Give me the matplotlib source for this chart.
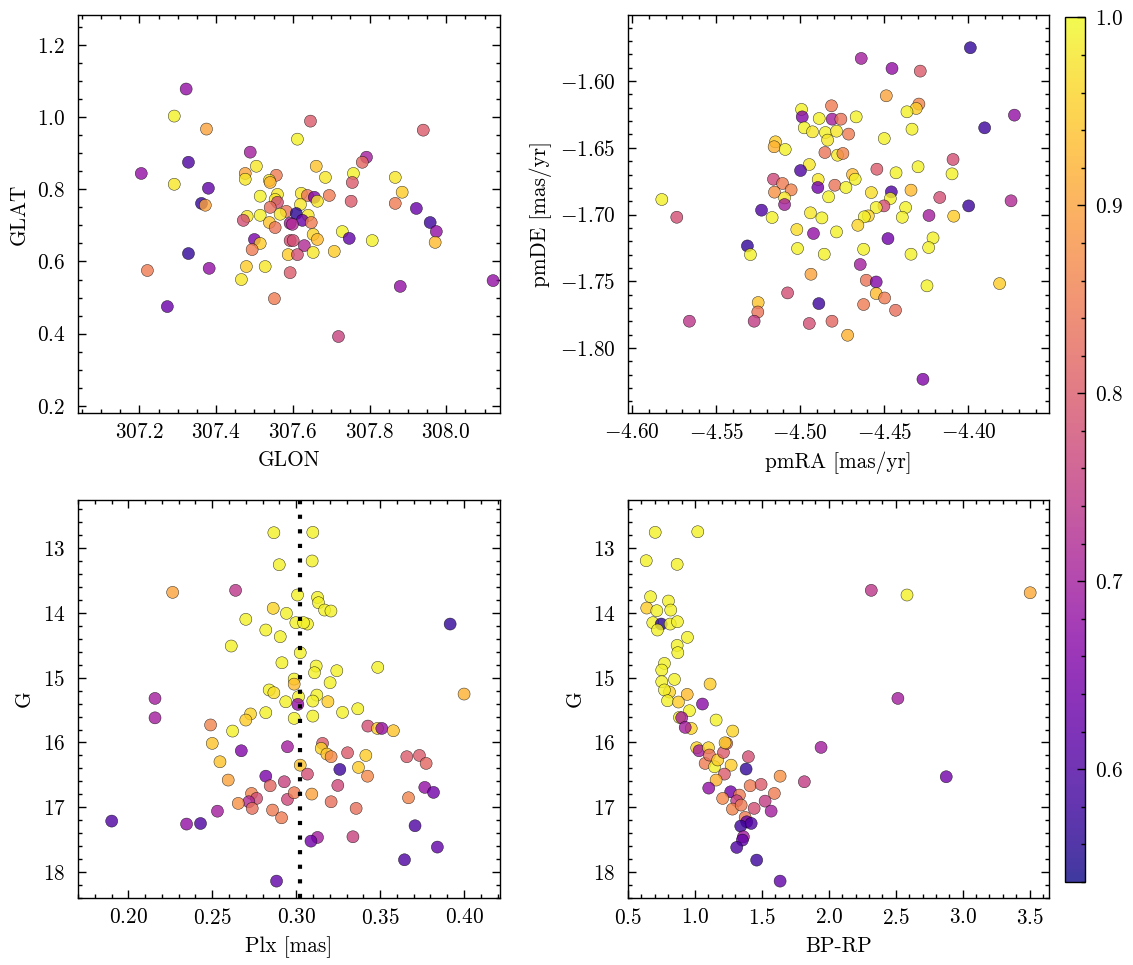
import matplotlib
matplotlib.use('Agg')
import matplotlib.pyplot as plt
from matplotlib.ticker import MultipleLocator

plt.rcParams['font.family'] = 'serif'
plt.rcParams['font.serif'] = ['cmr10']
plt.rcParams['mathtext.fontset'] = 'cm'
plt.rcParams['axes.formatter.use_mathtext'] = True
plt.rcParams['font.size'] = 15.3

# --- panel 1: sky position ---
glon = [307.322, 307.291, 307.375, 307.489, 307.328, 307.205, 307.505, 307.476, 307.476, 307.557,
        307.539, 307.541, 307.291, 307.380, 307.362, 307.372, 307.515, 307.560, 307.554, 307.560,
        307.541, 307.583, 307.481, 307.471, 307.515, 307.539, 307.567, 307.554, 307.593, 307.500,
        307.515, 307.494, 307.593, 307.588, 307.593, 307.328, 307.221, 307.382, 307.479, 307.528,
        307.466, 307.552, 307.273, 307.646, 307.940, 307.612, 307.792, 307.781, 307.661, 307.758,
        307.685, 307.867, 307.755, 307.885, 307.622, 307.638, 307.656, 307.664, 307.695, 307.752,
        307.867, 307.620, 307.922, 307.609, 307.640, 307.625, 307.648, 307.958, 307.974, 307.599,
        307.729, 307.653, 307.664, 307.747, 307.807, 307.601, 307.630, 307.971, 307.653, 307.708,
        307.612, 307.880, 308.122, 307.719]
glat = [1.078, 1.003, 0.967, 0.903, 0.875, 0.844, 0.864, 0.844, 0.828, 0.839,
        0.825, 0.819, 0.814, 0.803, 0.761, 0.756, 0.781, 0.786, 0.772, 0.764,
        0.750, 0.739, 0.725, 0.714, 0.728, 0.708, 0.731, 0.694, 0.706, 0.661,
        0.650, 0.633, 0.658, 0.619, 0.569, 0.622, 0.575, 0.581, 0.586, 0.586,
        0.550, 0.497, 0.475, 0.989, 0.964, 0.939, 0.889, 0.875, 0.864, 0.844,
        0.833, 0.833, 0.819, 0.792, 0.789, 0.783, 0.778, 0.767, 0.783, 0.767,
        0.761, 0.758, 0.747, 0.733, 0.728, 0.714, 0.708, 0.708, 0.683, 0.703,
        0.683, 0.675, 0.661, 0.664, 0.658, 0.658, 0.644, 0.653, 0.625, 0.628,
        0.619, 0.531, 0.547, 0.392]
prob1 = [0.68, 0.99, 0.90, 0.70, 0.60, 0.68, 0.98, 0.90, 0.98, 0.85,
         0.98, 0.92, 0.98, 0.62, 0.57, 0.90, 0.99, 0.98, 0.98, 0.78,
         0.83, 0.84, 0.98, 0.78, 0.99, 0.94, 0.98, 0.84, 0.70, 0.65,
         0.95, 0.85, 0.78, 0.95, 0.80, 0.57, 0.85, 0.68, 0.95, 0.98,
         0.98, 0.85, 0.63, 0.80, 0.80, 0.99, 0.70, 0.82, 0.94, 0.99,
         0.98, 0.98, 0.80, 0.95, 0.98, 0.84, 0.66, 0.98, 0.85, 0.80,
         0.85, 0.98, 0.63, 0.56, 0.98, 0.63, 0.85, 0.58, 0.68, 0.72,
         0.99, 0.96, 0.93, 0.62, 0.99, 0.78, 0.72, 0.93, 0.98, 0.95,
         0.78, 0.68, 0.68, 0.76]

# --- panel 2: proper motions ---
pmra = [-4.4992, -4.4988, -4.4887, -4.4814, -4.4810, -4.4976, -4.4927, -4.4850, -4.4837, -4.4784,
        -4.5147, -4.5155, -4.5089, -4.4853, -4.4778, -4.4946, -4.4998, -4.5159, -4.5105, -4.5054,
        -4.5153, -4.4893, -4.4895, -4.4794, -4.4831, -4.5093, -4.5093, -4.5823, -4.5734, -4.5230,
        -4.5167, -4.4939, -4.4871, -4.5020, -4.4921, -4.4784, -4.5314, -4.5296, -4.5016, -4.4857,
        -4.4936, -4.5075, -4.4889, -4.5250, -4.5252, -4.5274, -4.5659, -4.4946, -4.4811,
        -4.3988, -4.4637, -4.4454, -4.4286, -4.4488, -4.4294, -4.4310, -4.4365, -4.3726, -4.4667,
        -4.4758, -4.3903, -4.4335, -4.4712, -4.4500, -4.4746, -4.4091, -4.4544, -4.4299, -4.4430,
        -4.4097, -4.4689, -4.4673, -4.4728, -4.4577, -4.4458, -4.4464, -4.4341, -4.4170, -4.4502,
        -4.4548, -4.4373, -4.3998, -4.3746, -4.4595, -4.4619, -4.4393, -4.4234, -4.4087, -4.4657,
        -4.4478, -4.4210, -4.4236, -4.4623, -4.4341, -4.4643, -4.4607, -4.4548, -4.4548, -4.4498,
        -4.4623, -4.4433, -4.4246, -4.3814, -4.4718, -4.4270]
pmde = [-1.6212, -1.6268, -1.6280, -1.6185, -1.6285, -1.6350, -1.6380, -1.6385, -1.6442, -1.6375,
        -1.6455, -1.6492, -1.6512, -1.6535, -1.6555, -1.6625, -1.6670, -1.6735, -1.6767, -1.6815,
        -1.6832, -1.6737, -1.6797, -1.6780, -1.6867, -1.6875, -1.6925, -1.6887, -1.7020, -1.6967,
        -1.7022, -1.6987, -1.7025, -1.7112, -1.7142, -1.7130, -1.7235, -1.7300, -1.7254, -1.7297,
        -1.7447, -1.7587, -1.7667, -1.7659, -1.7730, -1.7799, -1.7799, -1.7816, -1.7799,
        -1.5750, -1.5830, -1.5905, -1.5925, -1.6110, -1.6172, -1.6205, -1.6230, -1.6255, -1.6268,
        -1.6285, -1.6350, -1.6360, -1.6397, -1.6430, -1.6542, -1.6587, -1.6660, -1.6642, -1.6687,
        -1.6695, -1.6700, -1.6735, -1.6797, -1.6835, -1.6830, -1.6880, -1.6817, -1.6872, -1.6935,
        -1.6947, -1.6947, -1.6935, -1.6897, -1.7010, -1.7017, -1.7020, -1.7007, -1.7012, -1.7080,
        -1.7180, -1.7175, -1.7247, -1.7260, -1.7297, -1.7374, -1.7492, -1.7505, -1.7592, -1.7625,
        -1.7674, -1.7717, -1.7534, -1.7517, -1.7904, -1.8234]
prob2 = [0.99, 0.66, 0.99, 0.85, 0.70, 0.99, 0.98, 0.99, 0.98, 0.98,
         0.95, 0.92, 0.99, 0.84, 0.98, 0.98, 0.60, 0.77, 0.85, 0.86,
         0.88, 0.98, 0.64, 0.84, 0.99, 0.98, 0.70, 0.99, 0.78, 0.60,
         0.99, 0.98, 0.99, 0.97, 0.68, 0.99, 0.57, 0.99, 0.99, 0.99,
         0.90, 0.78, 0.58, 0.94, 0.84, 0.75, 0.74, 0.78, 0.82,
         0.57, 0.70, 0.68, 0.80, 0.90, 0.86, 0.95, 0.99, 0.68, 0.99,
         0.84, 0.58, 0.99, 0.85, 0.99, 0.86, 0.78, 0.80, 0.99, 0.99,
         0.99, 0.93, 0.99, 0.99, 0.97, 0.60, 0.99, 0.93, 0.78, 0.78,
         0.99, 0.99, 0.58, 0.72, 0.96, 0.99, 0.99, 0.70, 0.95, 0.96,
         0.64, 0.99, 0.99, 0.99, 0.99, 0.70, 0.84, 0.66, 0.93, 0.85,
         0.85, 0.83, 0.99, 0.95, 0.92, 0.66]

# --- panel 3: parallax vs G ---
plx = [0.2867, 0.2899, 0.2264, 0.2639, 0.2863, 0.2942, 0.2700, 0.2819, 0.2905, 0.2613,
       0.2915, 0.2839, 0.2867, 0.2159, 0.2938, 0.2159, 0.2819, 0.2728, 0.2700, 0.2490,
       0.2621, 0.2500, 0.2673, 0.2546, 0.2595, 0.2819, 0.2845, 0.2929, 0.2734, 0.2764,
       0.2718, 0.2655, 0.2738, 0.2859, 0.2913, 0.2948, 0.2531, 0.1901, 0.2347, 0.2430,
       0.2883, 0.2948,
       0.3099, 0.3095, 0.3008, 0.3127, 0.3133, 0.3169, 0.3207, 0.2998, 0.3067, 0.3044,
       0.3917, 0.3024, 0.3119, 0.3109, 0.3242, 0.3486, 0.3202, 0.2988, 0.2988, 0.4000,
       0.3123, 0.3099, 0.3014, 0.3010, 0.3189, 0.3276, 0.3367, 0.3099, 0.2988, 0.3427,
       0.3484, 0.3510, 0.3579, 0.3157, 0.3149, 0.3183, 0.3208, 0.3306, 0.3415, 0.3659,
       0.3734, 0.3774, 0.3260, 0.3371, 0.3024, 0.3067, 0.3425, 0.3248, 0.3766, 0.3818,
       0.2988, 0.3093, 0.3669, 0.3208, 0.3357, 0.3708, 0.3127, 0.3088, 0.3338, 0.3841,
       0.3645]
g3 = [12.764, 13.258, 13.684, 13.653, 13.930, 14.008, 14.100, 14.265, 14.368, 14.512,
      14.770, 15.190, 15.233, 15.320, 15.372, 15.620, 15.540, 15.560, 15.654, 15.730,
      15.824, 16.014, 16.128, 16.298, 16.580, 16.520, 16.668, 16.606, 16.786, 16.863,
      16.915, 16.940, 17.017, 17.043, 17.162, 16.878, 17.060, 17.213, 17.259, 17.250,
      18.139, 16.066,
      12.758, 13.200, 13.725, 13.761, 13.844, 13.957, 13.972, 14.152, 14.173, 14.152,
      14.173, 14.615, 14.821, 14.924, 14.893, 14.841, 15.078, 15.022, 15.100, 15.253,
      15.269, 15.361, 15.294, 15.412, 15.371, 15.536, 15.480, 15.593, 15.628, 15.747,
      15.783, 15.783, 15.819, 16.014, 16.091, 16.179, 16.220, 16.159, 16.200, 16.220,
      16.200, 16.323, 16.416, 16.385, 16.350, 16.488, 16.520, 16.663, 16.693, 16.770,
      16.776, 16.796, 16.853, 16.915, 17.017, 17.285, 17.465, 17.522, 17.455, 17.614,
      17.810]
prob3 = [0.99, 0.99, 0.90, 0.74, 0.96, 0.99, 0.99, 0.99, 0.99, 0.99,
         0.99, 0.99, 0.97, 0.70, 0.99, 0.70, 0.99, 0.96, 0.95, 0.86,
         0.99, 0.94, 0.66, 0.94, 0.90, 0.65, 0.82, 0.76, 0.86, 0.78,
         0.72, 0.88, 0.83, 0.85, 0.85, 0.77, 0.70, 0.60, 0.68, 0.60,
         0.62, 0.70,
         0.99, 0.99, 0.99, 0.99, 0.99, 0.99, 0.99, 0.99, 0.99, 0.99,
         0.57, 0.99, 0.99, 0.99, 0.99, 0.99, 0.99, 0.99, 0.93, 0.92,
         0.99, 0.99, 0.99, 0.68, 0.95, 0.99, 0.99, 0.99, 0.99, 0.78,
         0.95, 0.68, 0.94, 0.80, 0.96, 0.94, 0.87, 0.80, 0.95, 0.80,
         0.80, 0.82, 0.58, 0.95, 0.94, 0.78, 0.87, 0.77, 0.68, 0.64,
         0.85, 0.90, 0.86, 0.83, 0.83, 0.60, 0.70, 0.64, 0.76, 0.62,
         0.60]
plx_mean = 0.302

# --- panel 4: colour-magnitude diagram ---
bprp = [0.703, 1.021, 0.636, 0.867, 0.668, 0.640, 0.802, 0.715, 0.819, 0.685,
        0.748, 0.815, 0.869, 0.720, 0.944, 0.867, 0.872, 0.772, 0.752, 0.847,
        0.752, 0.810, 0.772, 0.795, 0.942, 0.877, 1.113, 1.056, 0.959, 0.884,
        0.901, 0.972, 0.927, 1.158, 1.282, 1.013, 1.031, 1.101, 1.076, 1.146,
        1.108, 1.170, 1.213, 1.237, 1.225, 1.270, 1.220, 1.399, 1.382, 1.158,
        1.103, 1.267, 1.207, 1.332, 1.312, 1.280, 1.345, 1.412, 1.494, 1.636,
        1.593, 1.442, 1.524, 1.569, 1.817, 1.942, 1.375, 1.387, 1.342, 1.420,
        1.362, 1.354, 1.312, 1.461, 1.636, 2.317, 2.584, 3.504, 2.516, 2.877]
g4 = [12.758, 12.749, 13.196, 13.252, 13.752, 13.926, 13.818, 13.967, 13.957, 14.152,
      14.173, 14.173, 14.137, 14.265, 14.378, 14.502, 14.615, 14.780, 14.883, 15.027,
      15.063, 15.222, 15.190, 15.356, 15.258, 15.376, 15.099, 15.407, 15.510, 15.613,
      15.619, 15.783, 15.767, 15.654, 15.824, 16.082, 16.128, 16.082, 16.323, 16.375,
      16.194, 16.270, 16.153, 16.014, 16.005, 16.350, 16.488, 16.220, 16.410, 16.580,
      16.704, 16.761, 16.863, 16.812, 16.900, 17.028, 16.966, 16.668, 16.647, 16.520,
      16.786, 17.017, 16.905, 17.059, 16.606, 16.076, 17.156, 17.224, 17.290, 17.249,
      17.455, 17.506, 17.619, 17.815, 18.139, 13.653, 13.725, 13.690, 15.320, 16.529]
prob4 = [0.99, 0.99, 0.99, 0.99, 0.99, 0.95, 0.99, 0.99, 0.99, 0.99,
         0.56, 0.99, 0.99, 0.99, 0.99, 0.99, 0.99, 0.99, 0.99, 0.99,
         0.99, 0.96, 0.99, 0.99, 0.93, 0.95, 0.95, 0.67, 0.99, 0.99,
         0.70, 0.96, 0.70, 0.99, 0.96, 0.96, 0.70, 0.96, 0.85, 0.99,
         0.83, 0.95, 0.80, 0.83, 0.95, 0.95, 0.80, 0.78, 0.57, 0.92,
         0.68, 0.64, 0.87, 0.85, 0.75, 0.86, 0.85, 0.85, 0.80, 0.88,
         0.85, 0.78, 0.75, 0.70, 0.75, 0.70, 0.85, 0.62, 0.58, 0.60,
         0.70, 0.62, 0.60, 0.58, 0.62, 0.74, 0.99, 0.91, 0.70, 0.64]

vmin, vmax = 0.54, 1.0

fig = plt.figure(figsize=(11.33, 9.65), dpi=100)
ax1 = fig.add_axes([0.0688, 0.572, 0.3725, 0.4124])
ax2 = fig.add_axes([0.5543, 0.572, 0.3716, 0.4124])
ax3 = fig.add_axes([0.0688, 0.0694, 0.3725, 0.4124])
ax4 = fig.add_axes([0.5543, 0.0694, 0.3716, 0.4124])
cax = fig.add_axes([0.940, 0.086, 0.0177, 0.896])

kw = dict(cmap='plasma', vmin=vmin, vmax=vmax, s=75, alpha=0.8,
          edgecolors='k', linewidths=0.35, zorder=3)

sc = ax1.scatter(glon, glat, c=prob1, **kw)
ax1.set_xlim(307.04, 308.14)
ax1.set_ylim(0.18, 1.283)
ax1.set_xlabel('GLON')
ax1.set_ylabel('GLAT')
ax1.xaxis.set_major_locator(MultipleLocator(0.2))
ax1.xaxis.set_minor_locator(MultipleLocator(0.05))
ax1.yaxis.set_major_locator(MultipleLocator(0.2))
ax1.yaxis.set_minor_locator(MultipleLocator(0.05))

ax2.scatter(pmra, pmde, c=prob2, **kw)
ax2.set_xlim(-4.6024, -4.352)
ax2.set_ylim(-1.8487, -1.5505)
ax2.set_xlabel('pmRA [mas/yr]')
ax2.set_ylabel('pmDE [mas/yr]')
ax2.xaxis.set_major_locator(MultipleLocator(0.05))
ax2.xaxis.set_minor_locator(MultipleLocator(0.01))
ax2.yaxis.set_major_locator(MultipleLocator(0.05))
ax2.yaxis.set_minor_locator(MultipleLocator(0.01))

ax3.scatter(plx, g3, c=prob3, **kw)
ax3.axvline(plx_mean, color='k', lw=3, dashes=(1, 2.5), zorder=4)
ax3.set_xlim(0.170, 0.4214)
ax3.set_ylim(18.40, 12.26)
ax3.set_xlabel('Plx [mas]')
ax3.set_ylabel('G')
ax3.xaxis.set_major_locator(MultipleLocator(0.05))
ax3.xaxis.set_minor_locator(MultipleLocator(0.01))
ax3.yaxis.set_major_locator(MultipleLocator(1))
ax3.yaxis.set_minor_locator(MultipleLocator(0.2))

ax4.scatter(bprp, g4, c=prob4, **kw)
ax4.set_xlim(0.5, 3.645)
ax4.set_ylim(18.40, 12.26)
ax4.set_xlabel('BP-RP')
ax4.set_ylabel('G')
ax4.xaxis.set_major_locator(MultipleLocator(0.5))
ax4.xaxis.set_minor_locator(MultipleLocator(0.1))
ax4.yaxis.set_major_locator(MultipleLocator(1))
ax4.yaxis.set_minor_locator(MultipleLocator(0.2))

for ax in [ax1, ax2, ax3, ax4]:
    ax.tick_params(which='both', direction='in', top=True, right=True, width=1.0)
    ax.tick_params(which='major', length=5.5)
    ax.tick_params(which='minor', length=3)
    ax.tick_params(axis='x', which='major', pad=7)
    ax.tick_params(axis='y', which='major', pad=9)
    ax.xaxis.labelpad = 6
    ax.yaxis.labelpad = 6
    for sp in ax.spines.values():
        sp.set_linewidth(1.0)

cb = fig.colorbar(sc, cax=cax)
cb.set_ticks([0.6, 0.7, 0.8, 0.9, 1.0])
cb.ax.yaxis.set_minor_locator(MultipleLocator(0.02))
cb.ax.tick_params(which='both', direction='in', width=1.0)
cb.ax.tick_params(which='major', length=5.5, pad=7)
cb.ax.tick_params(which='minor', length=3)
cb.outline.set_linewidth(1.0)

fig.savefig('out.png', dpi=100)
